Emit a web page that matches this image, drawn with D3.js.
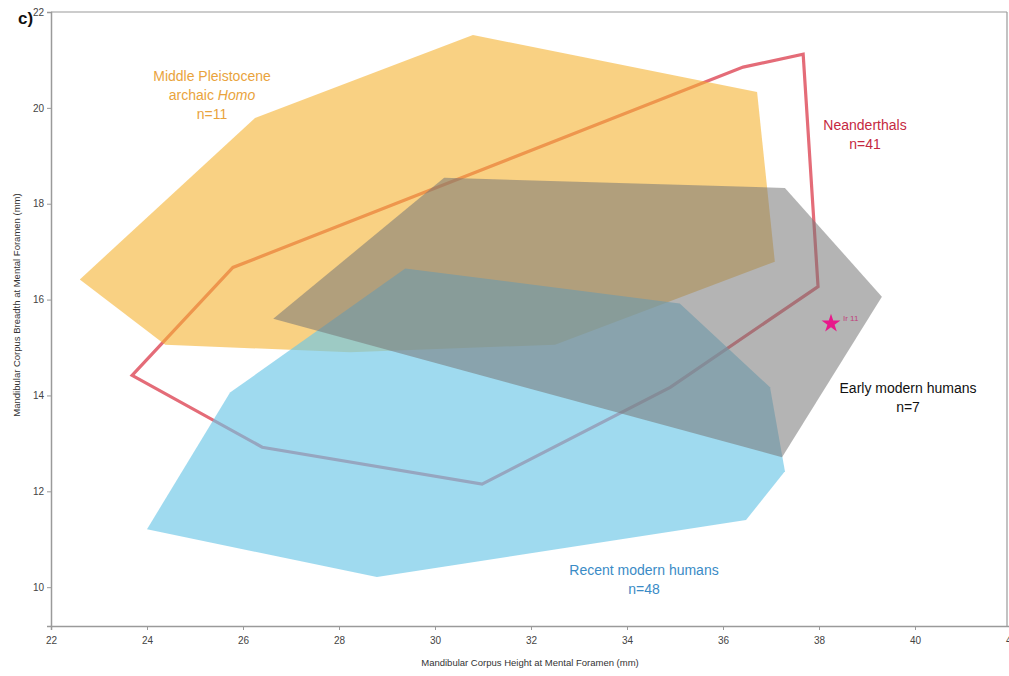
<!DOCTYPE html>
<html>
<head>
<meta charset="utf-8">
<script src="https://cdn.jsdelivr.net/npm/d3@7"></script>
<style>
  html, body { margin: 0; padding: 0; background: #fff; }
  svg { display: block; font-family: "Liberation Sans", Arial, sans-serif; }
</style>
</head>
<body>
<svg id="chart" width="1009" height="676"></svg>
<script>
// Convex hulls of mandibular corpus height vs. breadth at mental foramen (mm)
const middlePleistocene = [[22.60,16.42],[24.38,15.06],[28.23,14.90],[32.50,15.06],[37.08,16.79],[36.71,20.33],[30.79,21.52],[26.25,19.79]];
const neanderthals      = [[23.69,14.42],[26.40,12.92],[30.98,12.15],[34.90,14.17],[37.98,16.27],[37.67,21.12],[36.42,20.85],[25.79,16.67]];
const earlyModern       = [[26.63,15.60],[37.23,12.71],[39.31,16.06],[37.29,18.33],[30.19,18.54]];
const recentModern      = [[24.00,11.21],[28.79,10.21],[36.48,11.40],[37.29,12.42],[36.98,14.17],[35.10,15.92],[29.38,16.65],[25.73,14.06]];
const specimen          = { name: "Ir 11", x: 38.25, y: 15.5 };

const xTicks = [22, 24, 26, 28, 30, 32, 34, 36, 38, 40, 42];
const yTicks = [10, 12, 14, 16, 18, 20, 22];

const svg = d3.select("#chart");
const x = d3.scaleLinear().domain([22, 42]).range([51, 1011]);
const y = d3.scaleLinear().domain([9.19, 22]).range([626, 12]);
const frameRight = 1007;

const line = d3.line().x(d => x(d[0])).y(d => y(d[1])).curve(d3.curveLinearClosed);

// Neanderthal outline sits beneath the translucent fills
svg.append("path").datum(neanderthals)
  .attr("d", line).attr("fill", "none")
  .attr("stroke", "rgb(228,108,120)").attr("stroke-width", 3.2)
  .attr("stroke-linejoin", "miter");

svg.append("path").datum(middlePleistocene)
  .attr("d", line).attr("fill", "rgb(245,178,48)").attr("fill-opacity", 0.6);

svg.append("path").datum(recentModern)
  .attr("d", line).attr("fill", "rgb(108,198,230)").attr("fill-opacity", 0.65);

svg.append("path").datum(earlyModern)
  .attr("d", line).attr("fill", "rgb(118,118,118)").attr("fill-opacity", 0.55);

// Specimen star
svg.append("path")
  .attr("d", d3.symbol(d3.symbolStar, 110)())
  .attr("transform", `translate(${x(specimen.x)},${y(specimen.y)})`)
  .attr("fill", "#e8198b");
svg.append("text")
  .attr("x", x(specimen.x) + 12).attr("y", y(specimen.y) - 3)
  .attr("font-size", 8).attr("fill", "#c0407a")
  .text(specimen.name);

// Frame
svg.append("line").attr("x1", 51).attr("x2", frameRight).attr("y1", 12).attr("y2", 12)
  .attr("stroke", "#9a9a9a").attr("stroke-width", 1.2);
svg.append("line").attr("x1", frameRight).attr("x2", frameRight).attr("y1", 12).attr("y2", 626)
  .attr("stroke", "#9a9a9a").attr("stroke-width", 1.2);

// Axes
const xAxis = svg.append("g").attr("transform", "translate(0,626)")
  .call(d3.axisBottom(x).tickValues(xTicks).tickFormat(d3.format("d")).tickSizeOuter(0).tickSize(4));
const yAxis = svg.append("g").attr("transform", "translate(51,0)")
  .call(d3.axisLeft(y).tickValues(yTicks).tickFormat(d3.format("d")).tickSizeOuter(0).tickSize(4));
[xAxis, yAxis].forEach(g => {
  g.select(".domain").attr("stroke", "#9a9a9a").attr("stroke-width", 1.5);
  g.selectAll(".tick line").attr("stroke", "#9a9a9a");
  g.selectAll(".tick text").attr("fill", "#444").attr("font-size", 10)
    .attr("font-family", "Liberation Sans, Arial, sans-serif");
});
xAxis.selectAll(".tick text").attr("dy", "1.1em");
yAxis.selectAll(".tick text").attr("x", -7);

svg.append("text").attr("x", 530).attr("y", 666).attr("text-anchor", "middle")
  .attr("font-size", 9.5).attr("fill", "#333")
  .text("Mandibular Corpus Height at Mental Foramen (mm)");
svg.append("text").attr("transform", "translate(20,305) rotate(-90)")
  .attr("text-anchor", "middle").attr("font-size", 9.5).attr("fill", "#333")
  .text("Mandibular Corpus Breadth at Mental Foramen  (mm)");

svg.append("text").attr("x", 18).attr("y", 24).attr("font-size", 17)
  .attr("font-weight", "bold").attr("fill", "#111").text("c)");

// Group labels
function label(cx, cy, lines, color) {
  const t = svg.append("text").attr("text-anchor", "middle").attr("font-size", 14).attr("fill", color);
  lines.forEach((ln, i) => {
    const ts = t.append("tspan").attr("x", cx).attr("y", cy + i * 19);
    ln.forEach(part => {
      ts.append("tspan").attr("font-style", part.italic ? "italic" : null).text(part.t);
    });
  });
}
label(212, 81, [[{t: "Middle Pleistocene"}], [{t: "archaic "}, {t: "Homo", italic: true}], [{t: "n=11"}]], "#e9a33c");
label(865, 130, [[{t: "Neanderthals"}], [{t: "n=41"}]], "#c5283f");
label(908, 393, [[{t: "Early modern humans"}], [{t: "n=7"}]], "#111");
label(644, 575, [[{t: "Recent modern humans"}], [{t: "n=48"}]], "#3a8bc6");
</script>
</body>
</html>
